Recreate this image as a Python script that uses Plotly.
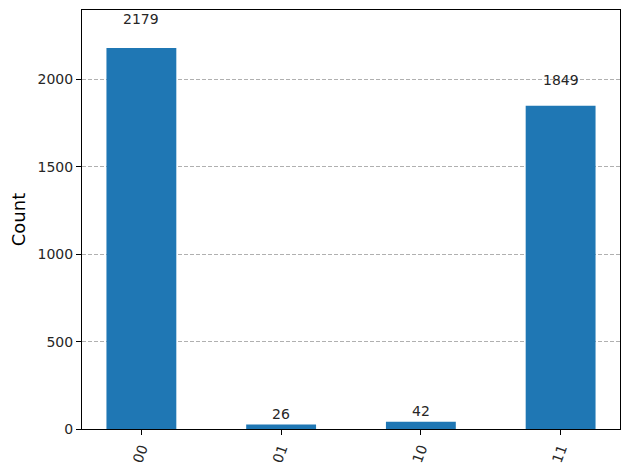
import plotly.graph_objects as go

states = ['00', '01', '10', '11']
counts = [2179, 26, 42, 1849]
y_ticks = [0, 500, 1000, 1500, 2000]

BLUE = '#1f77b4'
FONT = 'DejaVu Sans'

fig = go.Figure()
fig.add_trace(go.Bar(
    x=list(range(len(states))),
    y=counts,
    width=0.5,
    marker=dict(color=BLUE, line=dict(width=0)),
    hoverinfo='x+y',
))

# value labels just above each bar, like qiskit's plot_histogram
for i, c in enumerate(counts):
    fig.add_annotation(x=i, y=c * 1.05, text=str(c), showarrow=False,
                       xanchor='center', yanchor='bottom',
                       font=dict(family=FONT, size=14, color='#262626'))

# the page body adds an 8px offset, so margins are shifted to compensate
fig.update_layout(
    width=630, height=470,
    margin=dict(l=74, r=18, t=2, b=49, autoexpand=False),
    plot_bgcolor='white', paper_bgcolor='white',
    showlegend=False,
    font=dict(family=FONT, size=13, color='black'),
)

fig.update_xaxes(
    range=[-0.425, len(states) - 1 + 0.425],
    tickvals=list(range(len(states))), ticktext=states,
    tickangle=-70,
    ticks='outside', ticklen=5, tickcolor='black',
    showline=True, linecolor='black', linewidth=1, mirror=True,
    showgrid=False, zeroline=False, automargin=False,
    tickfont=dict(family=FONT, size=14, color='#262626'),
)

fig.update_yaxes(
    range=[0, max(counts) * 1.1],
    tickvals=y_ticks,
    ticks='outside', ticklen=5, tickcolor='black',
    showline=True, linecolor='black', linewidth=1, mirror=True,
    showgrid=True, gridcolor='#b0b0b0', griddash='4px,2px', gridwidth=0.8,
    zeroline=False, automargin=False,
    tickfont=dict(family=FONT, size=14, color='#262626'),
    title=dict(text='Count', font=dict(family=FONT, size=18, color='black'), standoff=16),
)

fig.write_html("out.html")
